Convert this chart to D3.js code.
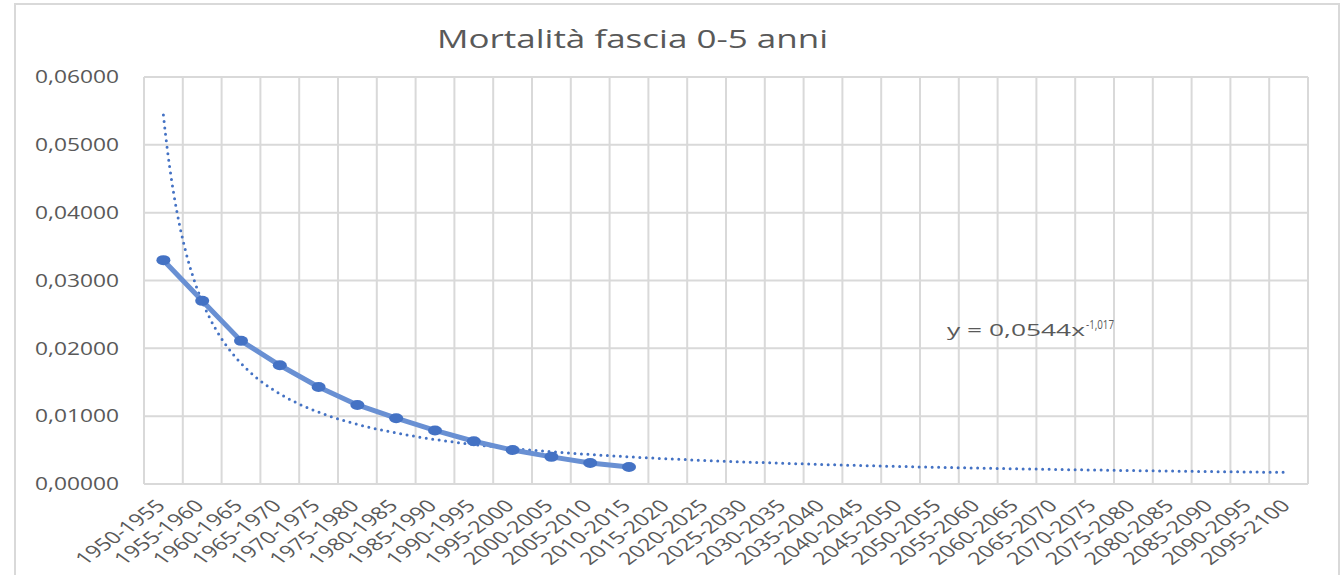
<!DOCTYPE html>
<html>
<head>
<meta charset="utf-8">
<script src="https://cdn.jsdelivr.net/npm/d3@7"></script>
<style>
  body { margin: 0; background: #fff; }
  text { font-family: "Open Sans", sans-serif; fill: #595959; }
</style>
</head>
<body>
<div id="wrapper"></div>
<script>
// Data
const title = "Mortalità fascia 0-5 anni";
const periods = [
  "1950-1955", "1955-1960", "1960-1965", "1965-1970", "1970-1975", "1975-1980",
  "1980-1985", "1985-1990", "1990-1995", "1995-2000", "2000-2005", "2005-2010",
  "2010-2015", "2015-2020", "2020-2025", "2025-2030", "2030-2035", "2035-2040",
  "2040-2045", "2045-2050", "2050-2055", "2055-2060", "2060-2065", "2065-2070",
  "2070-2075", "2075-2080", "2080-2085", "2085-2090", "2090-2095", "2095-2100"
];
const mortality = [
  0.0330, 0.0270, 0.0211, 0.0175, 0.0143, 0.01165,
  0.0097, 0.0079, 0.0063, 0.0050, 0.0040, 0.0031, 0.0025
];
const yTicks = [0, 0.01, 0.02, 0.03, 0.04, 0.05, 0.06];
// power trendline shown on the chart: y = 0,0544 x^-1,017
const trendCoef = 0.0544;
const trendExp = -1.017;
const trendLabel = "y = 0,0544x";
const trendLabelSup = "-1,017";

// Dimensions
let dimensions = {
  width: 1343,
  height: 575,
  margin: { top: 77, right: 35, bottom: 91, left: 144 },
};
dimensions.boundedWidth = dimensions.width - dimensions.margin.left - dimensions.margin.right;
dimensions.boundedHeight = dimensions.height - dimensions.margin.top - dimensions.margin.bottom;

const stretch = 1.38; // the original is drawn a bit wide

// Canvas
const wrapper = d3.select("#wrapper")
  .append("svg")
    .attr("width", dimensions.width)
    .attr("height", dimensions.height);

wrapper.append("rect")
  .attr("x", 15)
  .attr("y", 4)
  .attr("width", 1324)
  .attr("height", 620)
  .attr("fill", "#fff")
  .attr("stroke", "#d9d9d9")
  .attr("stroke-width", 2);

const bounds = wrapper.append("g")
  .attr("transform", `translate(${dimensions.margin.left},${dimensions.margin.top})`);

// Scales
const xScale = d3.scaleBand()
  .domain(periods)
  .range([0, dimensions.boundedWidth])
  .padding(0);
const bw = xScale.bandwidth();
const xCenter = d => xScale(d) + bw / 2;

const tScale = d3.scaleLinear()
  .domain([0.5, periods.length + 0.5])
  .range([0, dimensions.boundedWidth]);

const yScale = d3.scaleLinear()
  .domain([0, 0.06])
  .range([dimensions.boundedHeight, 0]);

// Gridlines
const grid = bounds.append("g")
  .attr("stroke", "#d9d9d9")
  .attr("stroke-width", 2);

grid.selectAll(".h")
  .data(yTicks)
  .join("line")
    .attr("x1", 0)
    .attr("x2", dimensions.boundedWidth)
    .attr("y1", d => yScale(d))
    .attr("y2", d => yScale(d));

grid.selectAll(".v")
  .data(d3.range(periods.length + 1))
  .join("line")
    .attr("x1", i => i * bw)
    .attr("x2", i => i * bw)
    .attr("y1", 0)
    .attr("y2", dimensions.boundedHeight);

// Y labels
const fmt = v => d3.format(".5f")(v).replace(".", ",");
bounds.append("g")
  .selectAll("text")
  .data(yTicks)
  .join("text")
    .attr("transform", d => `translate(-25,${yScale(d)}) scale(1.3,1)`)
    .attr("text-anchor", "end")
    .attr("dy", "0.36em")
    .style("font-size", "17.5px")
    .text(fmt);

// X labels
bounds.append("g")
  .selectAll("text")
  .data(periods)
  .join("text")
    .attr("transform", d => `translate(${xCenter(d) + 3},${dimensions.boundedHeight + 23}) scale(${stretch},1) rotate(-45)`)
    .attr("text-anchor", "end")
    .style("font-size", "17px")
    .text(d => d);

// Trendline
const trendPts = d3.range(1, periods.length + 0.001, 0.05)
  .map(t => [tScale(t), yScale(trendCoef * Math.pow(t, trendExp))]);

bounds.append("path")
  .attr("d", d3.line()(trendPts))
  .attr("fill", "none")
  .attr("stroke", "#4472c4")
  .attr("stroke-width", 3)
  .attr("stroke-linecap", "round")
  .attr("stroke-dasharray", "0 6.5");

// Series line
const line = d3.line()
  .x((d, i) => xCenter(periods[i]))
  .y(d => yScale(d));

bounds.append("path")
  .attr("d", line(mortality))
  .attr("fill", "none")
  .attr("stroke", "#6990d3")
  .attr("stroke-width", 5)
  .attr("stroke-linejoin", "round");

bounds.append("g")
  .selectAll("ellipse")
  .data(mortality)
  .join("ellipse")
    .attr("cx", (d, i) => xCenter(periods[i]))
    .attr("cy", d => yScale(d))
    .attr("rx", 7)
    .attr("ry", 5)
    .attr("fill", "#4472c4");

// Trend equation
wrapper.append("text")
  .attr("x", 947)
  .attr("y", 336)
  .attr("textLength", 138)
  .attr("lengthAdjust", "spacingAndGlyphs")
  .style("font-size", "16.5px")
  .text(trendLabel);

wrapper.append("text")
  .attr("x", 1086)
  .attr("y", 329)
  .attr("textLength", 28)
  .attr("lengthAdjust", "spacingAndGlyphs")
  .style("font-size", "12.5px")
  .text(trendLabelSup);

// Title
wrapper.append("text")
  .attr("x", 437)
  .attr("y", 48)
  .attr("textLength", 391)
  .attr("lengthAdjust", "spacingAndGlyphs")
  .style("font-size", "25px")
  .text(title);
</script>
</body>
</html>
